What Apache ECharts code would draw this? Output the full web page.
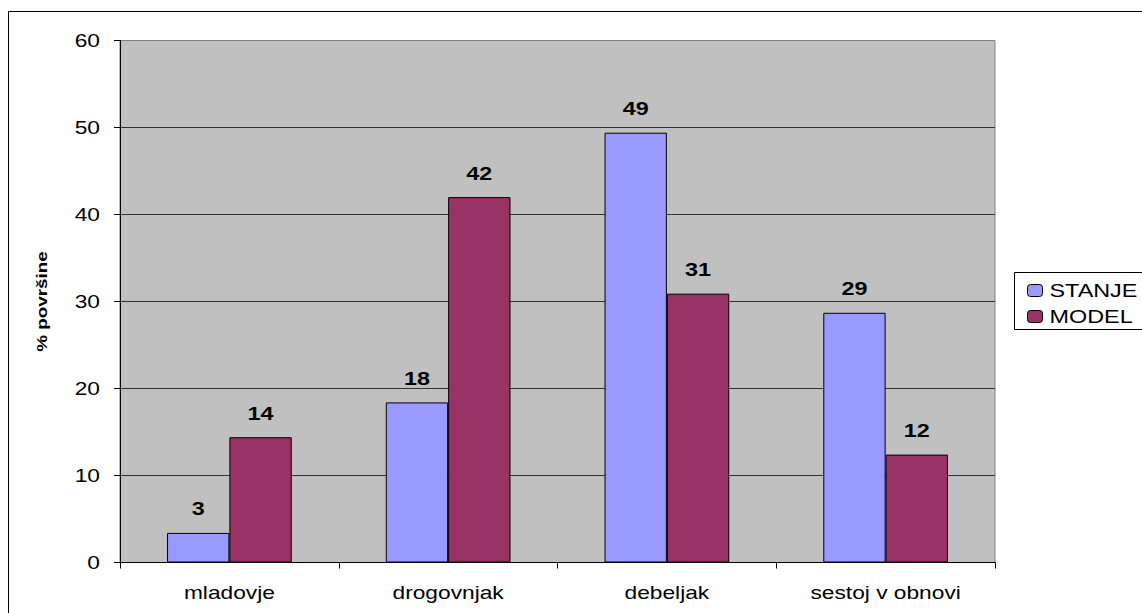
<!DOCTYPE html>
<html>
<head>
<meta charset="utf-8">
<script src="https://cdn.jsdelivr.net/npm/echarts@6/dist/echarts.min.js"></script>
<style>
html,body{margin:0;padding:0;background:#fff;}
#c{width:1142px;height:613px;}
</style>
</head>
<body>
<div id="c"></div>
<script>
const categories = ['mladovje', 'drogovnjak', 'debeljak', 'sestoj v obnovi'];
const stanje = [3.4, 18.4, 49.4, 28.7];
const model = [14.4, 42.0, 30.9, 12.4];
const seriesNames = ['STANJE', 'MODEL'];
const yTicks = [0, 10, 20, 30, 40, 50, 60];

const chart = echarts.init(document.getElementById('c'), null, {renderer: 'svg'});
const FONT = '"Liberation Sans", Arial, sans-serif';
const labelStyle = {
  show: true, position: 'top', distance: 15,
  fontFamily: FONT, fontWeight: 'bold', fontSize: 18, color: '#000',
  formatter: p => String(Math.round(p.value))
};
chart.setOption({
  animation: false,
  backgroundColor: '#fff',
  graphic: [{
    type: 'rect', shape: {x: 8.5, y: 11.5, width: 1200, height: 700},
    style: {fill: 'none', stroke: '#000', lineWidth: 1}, z: 100
  }, {
    type: 'rect', shape: {x: 1014.5, y: 272.5, width: 140, height: 57},
    style: {fill: '#fff', stroke: '#000', lineWidth: 1}, z: 1
  }],
  grid: {
    left: 120, top: 40.5, width: 875, height: 522,
    show: true, backgroundColor: '#C0C0C0', borderColor: '#808080', borderWidth: 1
  },
  legend: {
    orient: 'vertical', left: 1022, top: 276.5, itemWidth: 15, itemHeight: 12,
    itemGap: 8, z: 5,
    textStyle: {fontFamily: FONT, fontSize: 18, color: '#000', padding: [0, 0, 0, 2]},
    data: seriesNames.map(n => ({name: n, itemStyle: {borderColor: '#000', borderWidth: 1}}))
  },
  xAxis: {
    type: 'category', data: categories,
    axisLine: {lineStyle: {color: '#000', width: 1}},
    axisTick: {show: true, length: 6, lineStyle: {color: '#000'}},
    axisLabel: {fontFamily: FONT, fontSize: 17.5, color: '#000', margin: 21},
    splitLine: {show: false}
  },
  yAxis: {
    type: 'value', min: yTicks[0], max: yTicks[yTicks.length - 1], interval: 10,
    name: '% površine', nameLocation: 'middle', nameGap: 70, nameRotate: 90,
    nameTextStyle: {fontFamily: FONT, fontSize: 14.5, fontWeight: 'bold', color: '#000'},
    axisLine: {show: true, lineStyle: {color: '#000', width: 1}},
    axisTick: {show: true, length: 6, lineStyle: {color: '#000'}},
    axisLabel: {fontFamily: FONT, fontSize: 17.5, color: '#000', margin: 20},
    splitLine: {show: true, showMaxLine: false, lineStyle: {color: '#333', width: 1}}
  },
  series: [{
    name: seriesNames[0], type: 'bar', data: stanje,
    barGap: '0%', barCategoryGap: '43%',
    itemStyle: {color: '#9999FF', borderColor: '#000', borderWidth: 1},
    label: labelStyle
  }, {
    name: seriesNames[1], type: 'bar', data: model,
    barGap: '0%', barCategoryGap: '43%',
    itemStyle: {color: '#993366', borderColor: '#000', borderWidth: 1},
    label: labelStyle
  }]
});

// The reference's text is horizontally stretched; stretch each text about its anchor point.
const STRETCH = 1.3;
function stretchText() {
  document.querySelectorAll('#c text').forEach(t => {
    const cur = t.getAttribute('transform') || '';
    if (t.dataset.applied === cur && cur !== '') return;
    const x = parseFloat(t.getAttribute('x') || 0);
    const y = parseFloat(t.getAttribute('y') || 0);
    const next = cur + ' translate(' + x + ' ' + y + ') scale(' + STRETCH + ' 1) translate(' + (-x) + ' ' + (-y) + ')';
    t.setAttribute('transform', next.trim());
    t.dataset.applied = next.trim();
  });
}
chart.on('finished', stretchText);
stretchText();
setTimeout(stretchText, 50);
</script>
</body>
</html>
